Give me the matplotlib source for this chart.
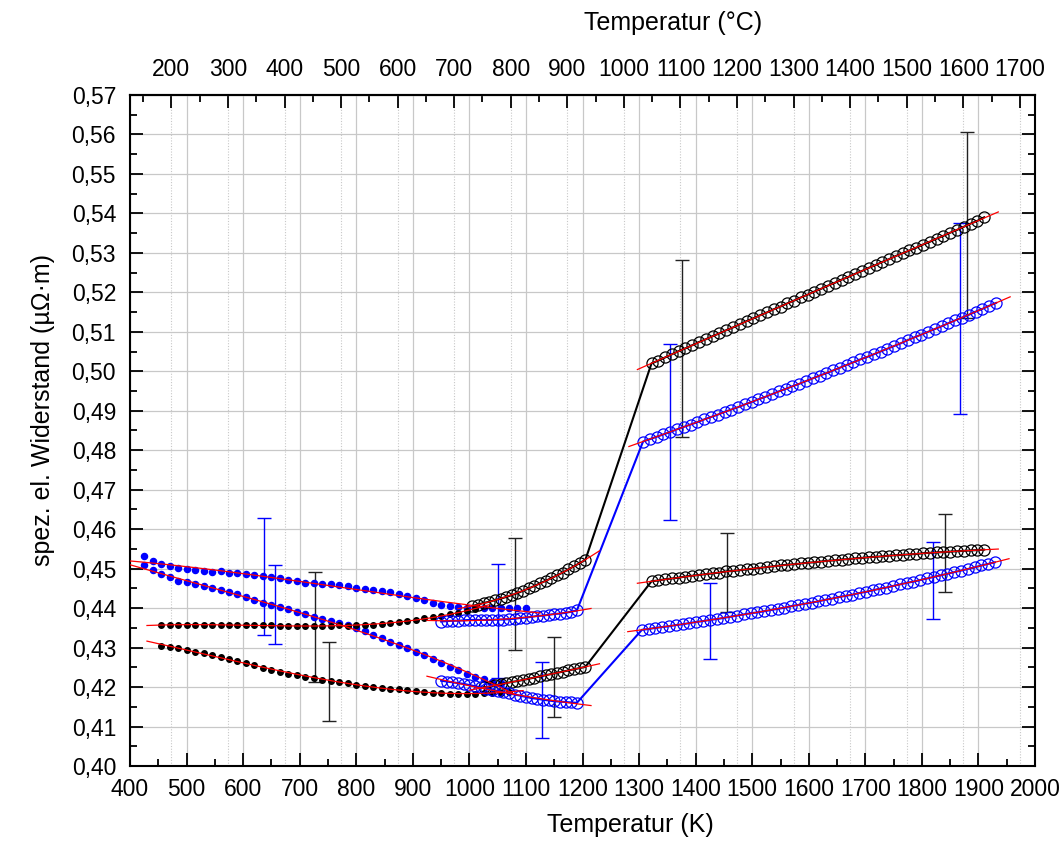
import numpy as np
import matplotlib
matplotlib.use('Agg')
import matplotlib.pyplot as plt
import matplotlib.ticker as ticker

plt.rcParams['font.family'] = 'Liberation Sans'
plt.rcParams['font.size'] = 16.5

# --- heating runs below the transition, small filled dots ---
t_blue_a = [425, 440, 455, 470, 485, 500, 515, 530, 545, 560, 575, 590, 605, 620, 635, 650,
            665, 680, 695, 710, 725, 740, 755, 770, 785, 800, 815, 830, 845, 860, 875, 890,
            905, 920, 935, 950, 965, 980, 995, 1010, 1025, 1040, 1055, 1070, 1085, 1100]
r_blue_a = [.4531, .4520, .4512, .4507, .4501, .4499, .4496, .4494, .4491, .4493, .4490, .4489,
            .4486, .4484, .4481, .4479, .4476, .4472, .4468, .4464, .4463, .4461, .4460, .4458,
            .4456, .4452, .4449, .4446, .4443, .4440, .4436, .4431, .4425, .4420, .4414, .4409,
            .4405, .4403, .4401, .4400, .4399, .4399, .4399, .4400, .4400, .4401]

t_blue_b = [425, 440, 455, 470, 485, 500, 515, 530, 545, 560, 575, 590, 605, 620, 635, 650,
            665, 680, 695, 710, 725, 740, 755, 770, 785, 800, 815, 830, 845, 860, 875, 890,
            905, 920, 935, 950, 965, 980, 995, 1010, 1025, 1040, 1055]
r_blue_b = [.4509, .4497, .4486, .4479, .4469, .4465, .4460, .4455, .4450, .4446, .4441, .4436,
            .4428, .4421, .4414, .4408, .4403, .4397, .4390, .4384, .4378, .4373, .4367, .4361,
            .4356, .4350, .4342, .4333, .4324, .4315, .4306, .4298, .4289, .4280, .4270, .4260,
            .4251, .4243, .4234, .4226, .4220, .4214, .4209]

t_black_a = [455, 470, 485, 500, 515, 530, 545, 560, 575, 590, 605, 620, 635, 650, 665, 680,
             695, 710, 725, 740, 755, 770, 785, 800, 815, 830, 845, 860, 875, 890, 905, 920,
             935, 950, 965, 980, 995, 1010]
r_black_a = [.4357, .4358, .4358, .4358, .4358, .4357, .4357, .4357, .4358, .4357, .4357, .4356,
             .4356, .4356, .4355, .4355, .4355, .4355, .4355, .4355, .4355, .4356, .4355, .4356,
             .4357, .4358, .4360, .4362, .4365, .4368, .4371, .4374, .4377, .4380, .4384, .4388,
             .4393, .4398]

t_black_b = [455, 470, 485, 500, 515, 530, 545, 560, 575, 590, 605, 620, 635, 650, 665, 680,
             695, 710, 725, 740, 755, 770, 785, 800, 815, 830, 845, 860, 875, 890, 905, 920,
             935, 950, 965, 980, 995, 1010, 1025, 1040, 1055, 1070]
r_black_b = [.4305, .4302, .4298, .4294, .4290, .4285, .4281, .4277, .4272, .4267, .4261, .4255,
             .4249, .4244, .4239, .4234, .4230, .4226, .4222, .4218, .4215, .4212, .4209, .4206,
             .4203, .4200, .4198, .4196, .4194, .4192, .4190, .4188, .4186, .4184, .4183, .4183,
             .4183, .4183, .4184, .4185, .4186, .4187]

# --- cooling runs, open circles (low-T and high-T segments) ---
t_ku_lo = [1005, 1015, 1025, 1035, 1045, 1055, 1065, 1075, 1085, 1095, 1105, 1115, 1125, 1135,
           1145, 1155, 1165, 1175, 1185, 1195, 1205]
r_ku_lo = [.4405, .4409, .4413, .4416, .4420, .4424, .4428, .4433, .4438, .4444, .4450, .4456,
           .4463, .4469, .4476, .4483, .4490, .4498, .4506, .4514, .4522]
t_ku_hi = [1322, 1334, 1346, 1358, 1370, 1382, 1394, 1406, 1418, 1430, 1442, 1454, 1466, 1478,
           1490, 1502, 1514, 1526, 1538, 1550, 1562, 1574, 1586, 1598, 1610, 1622, 1634, 1646,
           1658, 1670, 1682, 1694, 1706, 1718, 1730, 1742, 1754, 1766, 1778, 1790, 1802, 1814,
           1826, 1838, 1850, 1862, 1874, 1886, 1898, 1910]
r_ku_hi = [.5020, .5027, .5035, .5043, .5051, .5058, .5066, .5074, .5081, .5089, .5096, .5104,
           .5111, .5119, .5127, .5134, .5142, .5149, .5157, .5164, .5172, .5179, .5187, .5194,
           .5202, .5209, .5217, .5224, .5232, .5239, .5247, .5254, .5262, .5269, .5277, .5284,
           .5292, .5299, .5306, .5313, .5321, .5328, .5336, .5343, .5351, .5358, .5366, .5374,
           .5381, .5390]

t_kl_lo = [1025, 1035, 1045, 1055, 1065, 1075, 1085, 1095, 1105, 1115, 1125, 1135, 1145, 1155,
           1165, 1175, 1185, 1195, 1205]
r_kl_lo = [.4199, .4201, .4204, .4207, .4210, .4213, .4215, .4218, .4221, .4224, .4227, .4230,
           .4233, .4236, .4239, .4242, .4245, .4248, .4251]
t_kl_hi = [1322, 1334, 1346, 1358, 1370, 1382, 1394, 1406, 1418, 1430, 1442, 1454, 1466, 1478,
           1490, 1502, 1514, 1526, 1538, 1550, 1562, 1574, 1586, 1598, 1610, 1622, 1634, 1646,
           1658, 1670, 1682, 1694, 1706, 1718, 1730, 1742, 1754, 1766, 1778, 1790, 1802, 1814,
           1826, 1838, 1850, 1862, 1874, 1886, 1898, 1910]
r_kl_hi = [.4468, .4470, .4473, .4475, .4477, .4480, .4482, .4484, .4486, .4488, .4490, .4493,
           .4494, .4496, .4498, .4500, .4502, .4504, .4506, .4508, .4510, .4511, .4513, .4515,
           .4516, .4518, .4520, .4521, .4523, .4524, .4526, .4527, .4529, .4530, .4531, .4533,
           .4534, .4535, .4536, .4537, .4539, .4540, .4541, .4542, .4543, .4544, .4545, .4546,
           .4547, .4548]

t_bu_lo = [950, 960, 970, 980, 990, 1000, 1010, 1020, 1030, 1040, 1050, 1060, 1070, 1080, 1090,
           1100, 1110, 1120, 1130, 1140, 1150, 1160, 1170, 1180, 1190]
r_bu_lo = [.4366, .4367, .4368, .4368, .4369, .4370, .4370, .4370, .4370, .4370, .4371, .4371,
           .4372, .4373, .4375, .4376, .4378, .4380, .4381, .4383, .4385, .4386, .4388, .4391,
           .4394]
t_bu_hi = [1307, 1319, 1331, 1343, 1355, 1367, 1379, 1391, 1403, 1415, 1427, 1439, 1451, 1463,
           1475, 1487, 1499, 1511, 1523, 1535, 1547, 1559, 1571, 1583, 1595, 1607, 1619, 1631,
           1643, 1655, 1667, 1679, 1691, 1703, 1715, 1727, 1739, 1751, 1763, 1775, 1787, 1799,
           1811, 1823, 1835, 1847, 1859, 1871, 1883, 1895, 1907, 1919, 1931]
r_bu_hi = [.4822, .4828, .4834, .4840, .4846, .4853, .4859, .4865, .4871, .4878, .4884, .4890,
           .4897, .4903, .4909, .4916, .4922, .4929, .4935, .4942, .4949, .4955, .4962, .4968,
           .4975, .4982, .4989, .4995, .5002, .5009, .5016, .5023, .5030, .5036, .5043, .5050,
           .5057, .5064, .5071, .5079, .5086, .5093, .5100, .5107, .5114, .5122, .5129, .5136,
           .5143, .5151, .5158, .5166, .5173]

t_bl_lo = [950, 960, 970, 980, 990, 1000, 1010, 1020, 1030, 1040, 1050, 1060, 1070, 1080, 1090,
           1100, 1110, 1120, 1130, 1140, 1150, 1160, 1170, 1180, 1190]
r_bl_lo = [.4216, .4214, .4212, .4210, .4208, .4205, .4202, .4199, .4196, .4193, .4190, .4187,
           .4184, .4181, .4178, .4175, .4172, .4170, .4168, .4166, .4164, .4163, .4162, .4161,
           .4160]
t_bl_hi = [1305, 1317, 1329, 1341, 1353, 1365, 1377, 1389, 1401, 1413, 1425, 1437, 1449, 1461,
           1473, 1485, 1497, 1509, 1521, 1533, 1545, 1557, 1569, 1581, 1593, 1605, 1617, 1629,
           1641, 1653, 1665, 1677, 1689, 1701, 1713, 1725, 1737, 1749, 1761, 1773, 1785, 1797,
           1809, 1821, 1833, 1845, 1857, 1869, 1881, 1893, 1905, 1917, 1929]
r_bl_hi = [.4345, .4347, .4350, .4352, .4354, .4357, .4359, .4362, .4365, .4367, .4370, .4372,
           .4375, .4378, .4381, .4384, .4387, .4389, .4392, .4395, .4398, .4401, .4405, .4408,
           .4411, .4414, .4417, .4421, .4424, .4428, .4431, .4434, .4438, .4441, .4445, .4449,
           .4452, .4456, .4460, .4464, .4467, .4471, .4475, .4479, .4483, .4487, .4491, .4495,
           .4499, .4503, .4508, .4512, .4516]

# --- uncertainty bars ---
err_t_black = [727, 752, 1081, 1150, 1375, 1455, 1841, 1879]
err_r_black = [.4353, .4215, .4435, .4226, .5058, .4490, .4539, .5370]
err_d_black = [.0139, .0100, .0142, .0102, .0224, .0100, .0099, .0235]
err_t_blue = [637, 657, 1050, 1128, 1354, 1425, 1820, 1867]
err_r_blue = [.4481, .4408, .4367, .4168, .4846, .4368, .4470, .5134]
err_d_blue = [.0148, .0100, .0145, .0096, .0223, .0096, .0098, .0242]

# top axis in degrees Celsius
c_ticks = [200, 300, 400, 500, 600, 700, 800, 900, 1000, 1100, 1200, 1300, 1400, 1500, 1600, 1700]

fig = plt.figure(figsize=(10.63, 8.41), dpi=100)
ax = fig.add_axes([0.1223, 0.0892, 0.8514, 0.7979])


def fit_line(t, r, deg):
    t = np.asarray(t, float)
    p = np.polyfit(t, r, deg)
    tt = np.linspace(t.min() - 25, t.max() + 25, 200)
    ax.plot(tt, np.polyval(p, tt), color='red', lw=0.9, zorder=5)


# small filled dots
for t, r, col, ms in [(t_blue_a, r_blue_a, 'blue', 4.4), (t_blue_b, r_blue_b, 'blue', 4.4),
                      (t_black_a, r_black_a, 'black', 4.0), (t_black_b, r_black_b, 'black', 4.0)]:
    ax.plot(t, r, 'o', ms=ms, color=col, mec=col, zorder=3)
    fit_line(t, r, 3)

# open circles joined across the transition
for tl, rl, th, rh, col in [(t_ku_lo, r_ku_lo, t_ku_hi, r_ku_hi, 'black'),
                            (t_kl_lo, r_kl_lo, t_kl_hi, r_kl_hi, 'black'),
                            (t_bu_lo, r_bu_lo, t_bu_hi, r_bu_hi, 'blue'),
                            (t_bl_lo, r_bl_lo, t_bl_hi, r_bl_hi, 'blue')]:
    ax.plot(tl + th, rl + rh, '-o', color=col, lw=1.5, ms=8, mfc='none',
            mec=col, mew=0.9, zorder=3)
    fit_line(tl, rl, 2)
    fit_line(th, rh, 2)

ax.errorbar(err_t_black, err_r_black, yerr=err_d_black, fmt='none', ecolor='#222222',
            elinewidth=1.0, capsize=4.7, capthick=1.0, zorder=2)
ax.errorbar(err_t_blue, err_r_blue, yerr=err_d_blue, fmt='none', ecolor='blue',
            elinewidth=1.0, capsize=4.7, capthick=1.0, zorder=2)

ax.set_xlim(400, 2000)
ax.set_ylim(0.40, 0.57)
ax.xaxis.set_major_locator(ticker.MultipleLocator(100))
ax.xaxis.set_minor_locator(ticker.MultipleLocator(50))
ax.yaxis.set_major_locator(ticker.MultipleLocator(0.01))
ax.yaxis.set_minor_locator(ticker.MultipleLocator(0.005))
ax.yaxis.set_major_formatter(ticker.FuncFormatter(lambda v, _: f"{v:.2f}".replace('.', ',')))

ax.set_axisbelow(True)
ax.grid(which='major', color='#c8c8c8', lw=0.9, ls='-')
for c in c_ticks:
    ax.axvline(c + 273.15, color='#c8c8c8', lw=0.8, ls=(0, (1, 1.5)), zorder=0)

ax.tick_params(which='both', direction='in', top=False, right=True, width=1.3)
ax.tick_params(which='major', length=9.5)
ax.tick_params(which='minor', length=5)
ax.tick_params(axis='x', pad=9)
ax.tick_params(axis='y', pad=10)
for s in ax.spines.values():
    s.set_linewidth(1.5)

secax = ax.secondary_xaxis('top', functions=(lambda k: k - 273.15, lambda c: c + 273.15))
secax.set_xticks(c_ticks)
secax.xaxis.set_minor_locator(ticker.MultipleLocator(50))
secax.tick_params(which='both', direction='in', width=1.3, pad=10)
secax.tick_params(which='major', length=9.5)
secax.tick_params(which='minor', length=5)
secax.spines['top'].set_linewidth(1.5)
secax.set_xlabel('Temperatur (°C)', fontsize=18, labelpad=20)
secax.xaxis.label.set_x(0.60)

ax.set_xlabel('Temperatur (K)', fontsize=18, labelpad=8)
ax.xaxis.label.set_x(0.5525)
ax.set_ylabel('spez. el. Widerstand (µΩ·m)', fontsize=18, labelpad=12)
ax.yaxis.label.set_y(0.53)

fig.savefig('out.png', dpi=100)
